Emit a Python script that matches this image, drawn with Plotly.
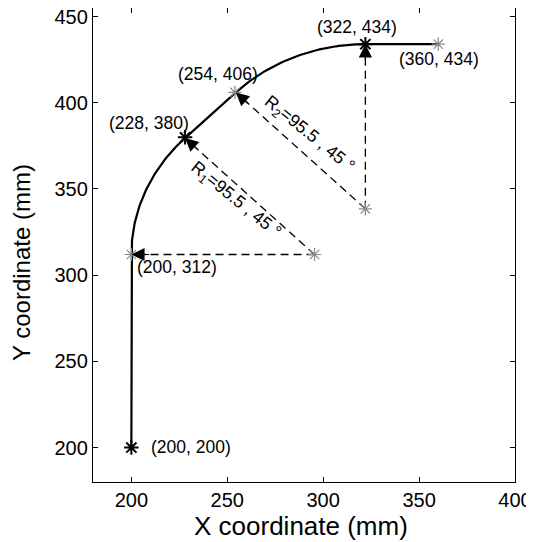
import numpy as np
import plotly.graph_objects as go

# ---- data ----
start_pt = (200, 200)
tangent_pt = (200, 312)
end_pt = (360, 434)
radius = 95.5
arc1_center = (295.5, 312)
arc1_angles = (180, 135)
arc2_center = (322, 338.5)
arc2_angles = (135, 90)

bold_x = [200, 228, 322]
bold_y = [200, 380, 434]
light_x = [200, 254, 360, 295.5, 322]
light_y = [312, 406, 434, 312, 338.5]

label_text = ["(322, 434)", "(360, 434)", "(254, 406)", "(228, 380)", "(200, 312)", "(200, 200)"]
label_x = [317.5, 360.5, 245, 209, 224, 231]
label_y = [444, 425.6, 417, 388, 304.6, 200.5]

radius_text = ["R<sub>1</sub>=95.5 , 45 °", "R<sub>2</sub>=95.5 , 45 °"]
radius_x = [254.5, 292.5]
radius_y = [343.6, 381.4]

x_ticks = [200, 250, 300, 350, 400]
y_ticks = [200, 250, 300, 350, 400, 450]
x_title = "X coordinate (mm)"
y_title = "Y coordinate (mm)"

FONT = "Liberation Sans, Arial, Helvetica, sans-serif"


def arc(center, angles, n=60):
    t = np.radians(np.linspace(angles[0], angles[1], n))
    return center[0] + radius * np.cos(t), center[1] + radius * np.sin(t)


a1x, a1y = arc(arc1_center, arc1_angles)
a2x, a2y = arc(arc2_center, arc2_angles)
path_x = np.concatenate([[start_pt[0]], a1x, a2x, [end_pt[0]]])
path_y = np.concatenate([[start_pt[1]], a1y, a2y, [end_pt[1]]])

fig = go.Figure()

# dashed radius lines
radius_lines = [
    (arc1_center, (a1x[0], a1y[0])),
    (arc1_center, (a1x[-1], a1y[-1])),
    (arc2_center, (a2x[0], a2y[0])),
    (arc2_center, (a2x[-1], a2y[-1])),
]
for c, p in radius_lines:
    fig.add_trace(go.Scatter(x=[c[0], p[0]], y=[c[1], p[1]], mode="lines",
                             line=dict(color="black", width=1.3, dash="8px,5px"),
                             hoverinfo="skip", showlegend=False))

# main path
fig.add_trace(go.Scatter(x=path_x, y=path_y, mode="lines",
                         line=dict(color="black", width=2.2),
                         showlegend=False))

# markers
fig.add_trace(go.Scatter(x=light_x, y=light_y, mode="markers",
                         marker=dict(symbol="asterisk-open", size=11, color="#8a8a8a",
                                     line=dict(color="#8a8a8a", width=1.2)),
                         showlegend=False))
fig.add_trace(go.Scatter(x=bold_x, y=bold_y, mode="markers",
                         marker=dict(symbol="asterisk-open", size=12, color="black",
                                     line=dict(color="black", width=2)),
                         showlegend=False))

# arrowheads
for c, p in radius_lines:
    d = np.array(c) - np.array(p)
    d = d / np.linalg.norm(d)
    tail = np.array(p) + d * 10
    fig.add_annotation(x=p[0], y=p[1], ax=tail[0], ay=tail[1],
                       xref="x", yref="y", axref="x", ayref="y",
                       text="", showarrow=True, arrowhead=2, arrowsize=2.2,
                       arrowwidth=1.2, arrowcolor="black", standoff=0)

# coordinate labels
for t, x, y in zip(label_text, label_x, label_y):
    fig.add_annotation(x=x, y=y, text=t, showarrow=False,
                       font=dict(family=FONT, size=17.5, color="black"))

# radius labels
for t, x, y in zip(radius_text, radius_x, radius_y):
    fig.add_annotation(x=x, y=y, text=t, showarrow=False, textangle=39,
                       font=dict(family=FONT, size=17.5, color="black"))

# axis titles
fig.add_annotation(x=0.5, y=0, xref="paper", yref="paper", text=x_title,
                   showarrow=False, xanchor="center", yanchor="middle",
                   xshift=-3, yshift=-44,
                   font=dict(family=FONT, size=26, color="black"))
fig.add_annotation(x=0, y=0.5, xref="paper", yref="paper", text=y_title,
                   showarrow=False, textangle=-90, xanchor="center", yanchor="middle",
                   xshift=-72, yshift=-18,
                   font=dict(family=FONT, size=24, color="black"))

axis_common = dict(showline=True, linecolor="black", linewidth=1.3, mirror="ticks",
                   ticks="inside", ticklen=5, tickcolor="black", tickwidth=1,
                   showgrid=False, zeroline=False, automargin=False,
                   ticklabeloverflow="allow",
                   tickfont=dict(family=FONT, size=20, color="black"))

fig.update_xaxes(range=[180, 400], tickvals=x_ticks, **axis_common)
fig.update_yaxes(range=[180, 455], tickvals=y_ticks, **axis_common)

# page body has an 8px margin; size and margins compensate so the plot area
# lands at the reference position within the 534x542 window
fig.update_layout(width=526, height=534, margin=dict(l=85, r=19, t=0, b=60),
                  plot_bgcolor="white", paper_bgcolor="white",
                  font=dict(family=FONT, color="black"))

fig.write_html("out.html")
